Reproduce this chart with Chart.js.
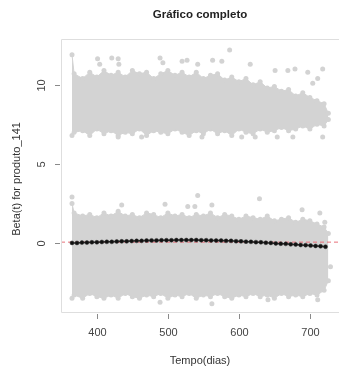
<!DOCTYPE html>
<html>
<head>
<meta charset="utf-8">
<script src="https://cdn.jsdelivr.net/npm/chart.js@4/dist/chart.umd.min.js"></script>
<style>
  html, body { margin: 0; padding: 0; background: #fff; }
  #graph { display: block; }
</style>
</head>
<body>
<canvas id="graph" width="339" height="370"></canvas>
<script>
// envelope of the dense grey point clouds
var cloudDays = [365, 368, 380, 390, 400, 410, 420, 430, 440, 450, 460, 470, 480, 490, 500, 510, 520, 530, 540,
                 550, 560, 570, 580, 590, 600, 610, 620, 630, 640, 650, 660, 670, 680, 690, 700, 710, 720, 726];
var upperTop = [11.9, 10.7, 10.4, 10.8, 10.5, 10.9, 10.6, 10.8, 10.5, 10.9, 10.7, 10.8, 10.4, 10.7, 10.9, 10.6, 10.8, 10.5, 10.8,
                10.4, 10.6, 10.7, 10.3, 10.5, 10.2, 10.4, 10.0, 10.2, 9.8, 9.9, 9.6, 9.7, 9.3, 9.5, 9.2, 9.0, 8.8, 8.2];
var upperBottom = [6.8, 7.0, 7.1, 6.8, 7.2, 6.9, 7.1, 6.8, 7.0, 6.9, 7.2, 6.8, 7.1, 7.0, 6.9, 7.2, 7.0, 6.8, 7.1,
                   6.9, 7.2, 6.9, 7.1, 6.8, 7.2, 7.0, 6.9, 7.2, 7.0, 7.1, 7.3, 7.1, 7.2, 7.4, 7.2, 7.5, 7.4, 7.8];
var lowerTop = [2.5, 1.9, 1.7, 1.8, 1.6, 1.9, 1.7, 2.0, 1.7, 1.8, 1.6, 1.9, 1.8, 1.6, 1.9, 1.7, 1.8, 1.6, 1.8,
                1.7, 1.9, 1.6, 1.8, 1.7, 1.5, 1.7, 1.6, 1.5, 1.7, 1.4, 1.5, 1.6, 1.3, 1.5, 1.4, 1.2, 1.0, 0.6];
var lowerBottom = [-3.5, -3.3, -3.5, -3.2, -3.4, -3.5, -3.3, -3.5, -3.2, -3.4, -3.5, -3.3, -3.4, -3.2, -3.5, -3.3, -3.4, -3.2, -3.5,
                   -3.3, -3.4, -3.2, -3.4, -3.5, -3.3, -3.4, -3.2, -3.4, -3.3, -3.5, -3.2, -3.4, -3.3, -3.4, -3.2, -3.3, -3.0, -2.4];

// scattered grey points outside the dense clouds
var outlierDays = [401, 421, 430, 404, 431, 489, 493, 520, 527, 542, 563, 576, 587, 616, 651, 669, 679, 697, 718, 711, 704,
                   430, 463, 548, 604, 623, 654, 676, 718,
                   365, 542, 629, 435, 496, 528, 538, 562, 689, 714, 721, 729,
                   562, 489, 641, 711];
var outlierValues = [11.65, 11.7, 11.65, 11.3, 11.3, 11.7, 11.4, 11.5, 11.55, 11.3, 11.55, 11.5, 12.2, 11.3, 10.9, 10.9, 11.0, 10.8, 11.0, 10.4, 10.1,
                     6.7, 6.7, 6.7, 6.7, 6.7, 6.7, 6.7, 6.7,
                     2.9, 3.0, 2.8, 2.4, 2.45, 2.3, 2.3, 2.4, 2.1, 1.9, 1.3, -1.5,
                     -3.85, -3.75, -3.6, -3.6];

// black estimated beta(t) curve
var betaDays = [365, 372, 379, 386, 393, 400, 407, 414, 421, 428, 435, 442, 449, 456, 463, 470, 477, 484, 491, 498,
                505, 512, 519, 526, 533, 540, 547, 554, 561, 568, 575, 582, 589, 596, 603, 610, 617, 624, 631, 638,
                645, 652, 659, 666, 673, 680, 687, 694, 701, 708, 715, 722];
var betaValues = [0.0, 0.0, 0.02, 0.02, 0.04, 0.04, 0.06, 0.07, 0.07, 0.09, 0.10, 0.10, 0.12, 0.13, 0.13, 0.15, 0.16, 0.16, 0.17, 0.17,
                  0.17, 0.18, 0.18, 0.18, 0.18, 0.18, 0.17, 0.17, 0.16, 0.15, 0.15, 0.13, 0.13, 0.11, 0.10, 0.08, 0.07, 0.05, 0.04, 0.01,
                  0.0, -0.03, -0.05, -0.06, -0.09, -0.10, -0.13, -0.14, -0.17, -0.19, -0.21, -0.24];

var refLevel = 0.05;
var xRange = [349.5, 741];
var yRange = [-4.37, 12.9];
var xTicks = [400, 500, 600, 700];
var yTicks = [0, 5, 10];

var GREY = '#d3d3d3';
var FONT = '"Liberation Sans", Arial, sans-serif';

function pts(xs, ys) {
  return xs.map(function (x, i) { return { x: x, y: ys[i] }; });
}

// R style axes: box (open on the cut right side), outside ticks, rotated y labels
const rAxes = {
  id: 'rAxes',
  afterDraw(chart) {
    const ctx = chart.ctx;
    const a = chart.chartArea;
    const xs = chart.scales.x, ys = chart.scales.y;
    ctx.save();
    ctx.strokeStyle = '#dedede';
    ctx.lineWidth = 1;
    ctx.beginPath();
    ctx.moveTo(chart.width, a.top + 0.5);
    ctx.lineTo(a.left + 0.5, a.top + 0.5);
    ctx.lineTo(a.left + 0.5, a.bottom + 0.5);
    ctx.lineTo(chart.width, a.bottom + 0.5);
    ctx.stroke();

    ctx.strokeStyle = '#8a8a8a';
    ctx.fillStyle = '#444';
    ctx.font = '11px ' + FONT;
    ctx.textAlign = 'center';
    ctx.textBaseline = 'middle';
    xTicks.forEach(function (t) {
      const px = Math.round(xs.getPixelForValue(t)) + 0.5;
      ctx.beginPath();
      ctx.moveTo(px, a.bottom + 2);
      ctx.lineTo(px, a.bottom + 7);
      ctx.stroke();
      ctx.fillText(String(t), px, a.bottom + 21);
    });
    yTicks.forEach(function (t) {
      const py = Math.round(ys.getPixelForValue(t)) + 0.5;
      ctx.beginPath();
      ctx.moveTo(a.left - 6, py);
      ctx.lineTo(a.left - 1, py);
      ctx.stroke();
      ctx.save();
      ctx.translate(a.left - 19, py);
      ctx.rotate(-Math.PI / 2);
      ctx.fillText(String(t), 0, 0);
      ctx.restore();
    });

    ctx.fillStyle = '#333';
    ctx.fillText('Tempo(dias)', 200, 361);
    ctx.save();
    ctx.translate(17, 179);
    ctx.rotate(-Math.PI / 2);
    ctx.fillText('Beta(t) for produto_141', 0, 0);
    ctx.restore();

    ctx.fillStyle = '#222';
    ctx.font = 'bold 11.5px ' + FONT;
    ctx.fillText('Gráfico completo', 200, 15);
    ctx.restore();
  }
};

new Chart('graph', {
  type: 'line',
  data: {
    datasets: [
      {
        data: pts(betaDays, betaValues),
        borderColor: '#222',
        borderWidth: 1.5,
        pointRadius: 2,
        pointBackgroundColor: '#111',
        pointBorderColor: '#333',
        pointBorderWidth: 0.5,
        fill: false
      },
      {
        data: pts(xRange, [refLevel, refLevel]),
        borderColor: '#e8707a',
        borderWidth: 1,
        borderDash: [4, 3],
        pointRadius: 0,
        fill: false
      },
      {
        type: 'scatter',
        data: pts(outlierDays, outlierValues),
        pointRadius: 2.5,
        pointBackgroundColor: GREY,
        pointBorderWidth: 0
      },
      {
        data: pts(cloudDays, upperTop),
        borderColor: GREY,
        backgroundColor: GREY,
        borderWidth: 1,
        pointRadius: 2.5,
        pointBackgroundColor: GREY,
        pointBorderWidth: 0,
        fill: '+1'
      },
      {
        data: pts(cloudDays, upperBottom),
        borderColor: GREY,
        borderWidth: 1,
        pointRadius: 2.5,
        pointBackgroundColor: GREY,
        pointBorderWidth: 0,
        fill: false
      },
      {
        data: pts(cloudDays, lowerTop),
        borderColor: GREY,
        backgroundColor: GREY,
        borderWidth: 1,
        pointRadius: 2.5,
        pointBackgroundColor: GREY,
        pointBorderWidth: 0,
        fill: '+1'
      },
      {
        data: pts(cloudDays, lowerBottom),
        borderColor: GREY,
        borderWidth: 1,
        pointRadius: 2.5,
        pointBackgroundColor: GREY,
        pointBorderWidth: 0,
        fill: false
      }
    ]
  },
  options: {
    responsive: false,
    animation: false,
    layout: { autoPadding: false, padding: { left: 61, top: 39, right: 0, bottom: 58 } },
    scales: {
      x: { type: 'linear', min: xRange[0], max: xRange[1], display: false },
      y: { type: 'linear', min: yRange[0], max: yRange[1], display: false }
    },
    plugins: {
      legend: { display: false },
      tooltip: { enabled: false },
      title: { display: false }
    }
  },
  plugins: [rAxes]
});
</script>
</body>
</html>
